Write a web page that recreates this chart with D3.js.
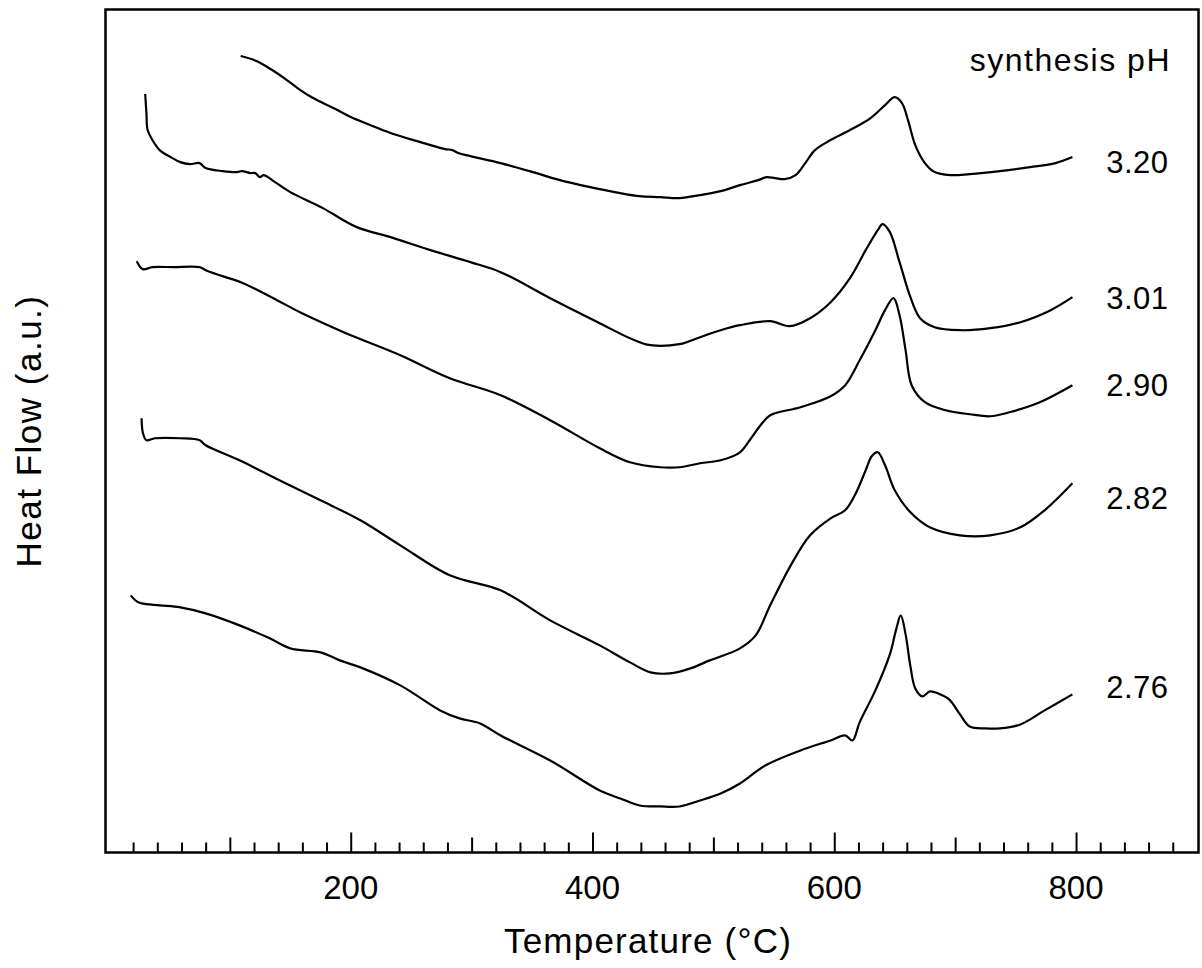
<!DOCTYPE html>
<html>
<head>
<meta charset="utf-8">
<script src="https://cdn.jsdelivr.net/npm/d3@7"></script>
<style>
	body { margin: 0; background: white; }
	svg text { font-family: 'Liberation Sans', Arial, sans-serif; fill: black; }
</style>
</head>
<body>
<svg id="chart" width="1202" height="968"></svg>
<script>

// DSC traces, [temperature (C), heat flow (a.u.)]
var ph320 = [[109,79.6],[122,79.1],[135,78.2],[146,77.3],[156,76.4],[166,75.6],[177,74.9],[189,74.2],[200,73.5],[216,72.7],[233,71.9],[249,71.3],[266,70.7],[278,70.3],[284,70.2],[289,69.9],[299,69.6],[324,68.9],[348,68.1],[373,67.2],[398,66.5],[423,65.9],[439,65.6],[456,65.5],[472,65.4],[489,65.7],[506,66.1],[522,66.7],[537,67.2],[544,67.5],[551,67.4],[559,67.3],[568,67.7],[576,68.9],[584,70.2],[597,71.2],[613,72.2],[630,73.4],[642,74.7],[650,75.5],[656,74.9],[661,73.2],[667,70.7],[675,68.9],[683,68.0],[696,67.7],[712,67.8],[737,68.1],[762,68.5],[783,68.9],[797,69.5]]

var ph301 = [[30,75.8],[31,73.9],[32,72.2],[36,71.2],[42,70.2],[51,69.5],[59,69.0],[67,68.8],[75,68.9],[80,68.4],[94,68.1],[106,68.0],[110,68.1],[117,67.9],[121,67.9],[125,67.5],[128,67.7],[135,67.2],[150,66.0],[177,64.4],[205,62.5],[233,61.5],[266,60.2],[299,59.0],[324,58.0],[365,55.4],[406,52.9],[431,51.4],[448,50.7],[472,50.8],[489,51.5],[506,52.2],[522,52.7],[547,53.1],[563,52.6],[580,53.4],[597,55.0],[613,57.4],[626,60.2],[636,62.2],[640,62.8],[646,62.0],[654,59.0],[663,55.5],[671,53.4],[683,52.5],[704,52.2],[729,52.4],[754,53.0],[779,54.2],[797,55.5]]

var ph290 = [[23,59.1],[28,58.3],[36,58.5],[53,58.5],[75,58.5],[80,58.2],[94,57.6],[111,56.9],[139,55.2],[158,54.0],[183,52.6],[200,51.7],[241,49.7],[282,47.4],[324,45.7],[365,43.2],[406,40.4],[431,39.0],[456,38.5],[472,38.5],[489,38.9],[506,39.2],[522,40.0],[530,41.2],[539,42.7],[547,43.7],[572,44.5],[597,45.6],[609,46.7],[621,49.2],[634,52.2],[642,54.2],[649,55.4],[654,53.7],[659,50.2],[664,46.7],[675,45.0],[692,44.2],[712,43.8],[729,43.6],[745,44.0],[770,45.0],[797,46.7]]

var ph282 = [[27,43.4],[28,42.0],[31,41.2],[38,41.4],[59,41.4],[75,41.2],[80,40.7],[108,39.2],[141,37.2],[175,35.2],[208,33.2],[241,30.7],[282,27.7],[324,26.2],[365,23.2],[406,20.7],[431,19.0],[448,18.0],[464,17.9],[481,18.4],[497,19.2],[522,20.4],[535,21.7],[547,24.7],[564,28.7],[580,31.7],[597,33.4],[609,34.2],[617,35.7],[626,38.2],[631,39.6],[636,40.0],[642,38.7],[650,36.2],[663,34.0],[679,32.5],[704,31.7],[729,31.7],[754,32.5],[774,34.2],[797,36.9]]

var ph276 = [[18,25.7],[23,25.1],[27,24.9],[42,24.7],[59,24.5],[80,23.9],[108,22.7],[133,21.4],[150,20.4],[175,20.0],[191,19.2],[208,18.5],[241,16.7],[274,14.2],[290,13.4],[307,12.9],[324,11.7],[365,9.2],[406,6.2],[423,5.4],[439,4.7],[456,4.6],[472,4.6],[489,5.2],[506,5.9],[522,6.9],[543,8.7],[572,10.2],[597,11.2],[609,11.7],[615,11.2],[621,13.0],[634,16.2],[646,19.8],[651,22.2],[655,23.7],[659,21.8],[663,18.6],[667,16.4],[673,15.6],[679,16.1],[686,15.9],[695,15.3],[704,13.8],[712,12.6],[725,12.4],[737,12.4],[754,12.8],[774,14.2],[797,15.8]]

var series = [ph320, ph301, ph290, ph282, ph276]
var phLabels = ['3.20', '3.01', '2.90', '2.82', '2.76']
// heat flow level where each label sits
var labelLevels = [67.9, 54.3, 45.6, 34.3, 15.4]

var majorTicks = [200, 400, 600, 800]
var midTicks = [100, 300, 500, 700]

var margin = {
	'left' : 105.5,
	'right' : 3.5,
	'top' : 9.5,
	'bottom' : 115.5,
}

var svg = d3.select('#chart')
var width = +svg.attr('width')
var height = +svg.attr('height')

var xscale = d3.scaleLinear().domain([-2.85, 901.3]).range([margin.left, width - margin.right])
var yscale = d3.scaleLinear().domain([0, 84.2]).range([height - margin.bottom, margin.top + 0.5])

var bottomY = height - margin.bottom

// minor ticks every 20 C, pointing into the plot
var minorTicks = d3.range(20, 900, 20).filter(d => majorTicks.indexOf(d) < 0 && midTicks.indexOf(d) < 0)

var addTicks = function(values, size)
{
	svg.append('g')
		.attr('transform', 'translate(0,' + bottomY + ')')
		.call(d3.axisBottom(xscale).tickValues(values).tickSize(-size).tickFormat(''))
		.call(g => g.select('.domain').remove())
		.call(g => g.selectAll('line').attr('stroke', 'black').attr('stroke-width', 2))
}
addTicks(minorTicks, 10)
addTicks(midTicks, 15)
addTicks(majorTicks, 20)

// tick labels
svg.append('g').selectAll('text')
	.data(majorTicks)
	.enter().append('text')
		.attr('x', d => xscale(d))
		.attr('y', 899)
		.attr('text-anchor', 'middle')
		.style('font-size', '33px')
		.text(d => d)

// frame
svg.append('rect')
	.attr('x', margin.left)
	.attr('y', margin.top)
	.attr('width', width - margin.left - margin.right)
	.attr('height', height - margin.top - margin.bottom)
	.attr('fill', 'none')
	.attr('stroke', 'black')
	.attr('stroke-width', 2.5)

var line = d3.line()
	.x(d => xscale(d[0]))
	.y(d => yscale(d[1]))
	.curve(d3.curveCatmullRom.alpha(0.5))

svg.append('g').selectAll('path')
	.data(series)
	.enter().append('path')
		.attr('d', line)
		.attr('fill', 'none')
		.attr('stroke', 'black')
		.attr('stroke-width', 2.2)
		.attr('stroke-linejoin', 'round')

svg.append('g').selectAll('text')
	.data(phLabels)
	.enter().append('text')
		.attr('x', 1168.5)
		.attr('y', (d, i) => yscale(labelLevels[i]))
		.attr('text-anchor', 'end')
		.style('font-size', '31px')
		.style('letter-spacing', '0.5px')
		.text(d => d)

svg.append('text')
	.attr('x', 1171)
	.attr('y', 71)
	.attr('text-anchor', 'end')
	.style('font-size', '32px')
	.style('letter-spacing', '1.5px')
	.text('synthesis pH')

// axis titles
svg.append('text')
	.attr('x', 648)
	.attr('y', 953)
	.attr('text-anchor', 'middle')
	.style('font-size', '35px')
	.style('letter-spacing', '1.2px')
	.text('Temperature (°C)')

svg.append('text')
	.attr('transform', 'translate(' + 41 + ',' + 431 + ')rotate(-90)')
	.attr('text-anchor', 'middle')
	.style('font-size', '35px')
	.style('letter-spacing', '1.5px')
	.text('Heat Flow (a.u.)')

</script>
</body>
</html>
